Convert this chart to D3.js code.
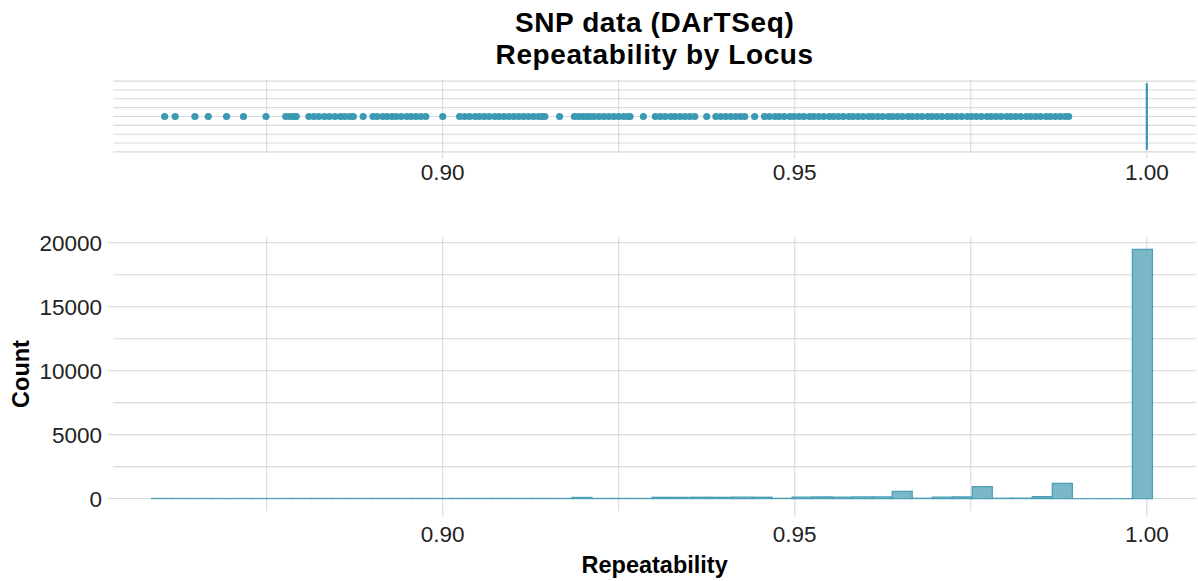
<!DOCTYPE html>
<html>
<head>
<meta charset="utf-8">
<script src="https://cdn.jsdelivr.net/npm/d3@7"></script>
<style>
  body { margin: 0; background: #fff; }
  svg { display: block; font-family: "Liberation Sans", Arial, sans-serif; }
</style>
</head>
<body>
<svg id="chart" width="1198" height="581"></svg>
<script>
// ---- data ----
const titleLines = ["SNP data (DArTSeq)", "Repeatability by Locus"];
const xLabel = "Repeatability";
const yLabel = "Count";
const xMajorTicks = [0.90, 0.95, 1.00];
const xMinorTicks = [0.875, 0.925, 0.975];
const yMajorTicks = [0, 5000, 10000, 15000, 20000];
const yMinorTicks = [2500, 7500, 12500, 17500];
const dataRange = [0.8602, 1.0];

// box summary (lower hinge, median, upper hinge) for the strip on top
const boxQuartiles = [1.0, 1.0, 1.0];

// loci falling outside the box, drawn as points
const outlierValues = [
  0.8605, 0.8620, 0.8648, 0.8667, 0.8693, 0.8717, 0.8749,
  0.8777, 0.8783, 0.8788, 0.8792,
  0.8810, 0.8817, 0.8824, 0.8832, 0.8839, 0.8847, 0.8855, 0.8861, 0.8868, 0.8873,
  0.8887,
  0.8901, 0.8907, 0.8915, 0.8921, 0.8928, 0.8934, 0.8941, 0.8949, 0.8955, 0.8962, 0.8969, 0.8976,
  0.9000,
  0.9024, 0.9031, 0.9038, 0.9046, 0.9052, 0.9059, 0.9066, 0.9074, 0.9080, 0.9087,
  0.9094, 0.9101, 0.9108, 0.9115, 0.9122, 0.9129, 0.9136, 0.9141, 0.9145,
  0.9166,
  0.9187, 0.9193, 0.9199, 0.9204, 0.9209, 0.9215, 0.9222, 0.9229, 0.9236, 0.9243,
  0.9250, 0.9257, 0.9263, 0.9266,
  0.9285,
  0.9302, 0.9309, 0.9316, 0.9324, 0.9330, 0.9337, 0.9344, 0.9351, 0.9358,
  0.9375,
  0.9388, 0.9395, 0.9402, 0.9409, 0.9416, 0.9423, 0.9429,
  0.9443,
  0.9457, 0.9464, 0.9472, 0.9478, 0.9485, 0.9493, 0.9499, 0.9506, 0.9513, 0.9521,
  0.9527, 0.9534, 0.9541, 0.9549, 0.9555, 0.9562, 0.9569, 0.9577, 0.9583, 0.9590,
  0.9597, 0.9605, 0.9611, 0.9618, 0.9625, 0.9633, 0.9639, 0.9646, 0.9653, 0.9661,
  0.9667, 0.9674, 0.9681, 0.9689, 0.9695, 0.9702, 0.9709, 0.9717, 0.9723, 0.9730,
  0.9737, 0.9745, 0.9751, 0.9758, 0.9765, 0.9773, 0.9779, 0.9786, 0.9793, 0.9801,
  0.9807, 0.9814, 0.9821, 0.9829, 0.9835, 0.9842, 0.9849, 0.9857, 0.9863, 0.9870,
  0.9877, 0.9884, 0.9889
];

// histogram: 50 equal-width bins
const binStart = 0.85865;
const binWidth = 0.002843;
const binCounts = [
  3, 2, 2, 1, 2, 1, 2, 5, 8, 6,
  4, 7, 6, 8, 3, 9, 10, 11, 9, 12,
  6, 85, 10, 12, 8, 95, 90, 100, 95, 105,
  100, 15, 110, 120, 115, 125, 130, 560, 20, 110,
  120, 930, 25, 30, 140, 1180, 0, 0, 0, 19480
];

// ---- styling ----
const teal = "#3b9ab3";
const histStroke = "#4aa1b6";
const histFill = "#7bb7c6";
const gridColor = "#d9d9d9";
const textColor = "#222";

const svg = d3.select("#chart");

const panelLeft = 113.3, panelRight = 1196;
const stripPanel = { y0: 80, y1: 153 };
const histPanel = { y0: 237, y1: 511 };
const tickLen = 5.5;

const span = dataRange[1] - dataRange[0];
const x = d3.scaleLinear()
  .domain([dataRange[0] - 0.05 * span, dataRange[1] + 0.05 * span])
  .range([panelLeft, panelRight]);

// ---- title ----
const titleG = svg.append("g").attr("font-weight", "bold").attr("font-size", 28)
  .attr("letter-spacing", "0.6px")
  .attr("fill", "#000").attr("text-anchor", "middle");
titleLines.forEach((t, i) => {
  titleG.append("text").attr("x", (panelLeft + panelRight) / 2).attr("y", 31.5 + i * 32).text(t);
});

// ---- top strip panel ----
const yStrip = d3.scaleLinear().domain([-0.4125, 0.4125]).range([stripPanel.y1, stripPanel.y0]);
const gStrip = svg.append("g");
gStrip.selectAll("line.hgrid")
  .data(d3.range(-4, 5).map(k => k / 10))
  .join("line")
  .attr("x1", panelLeft).attr("x2", panelRight)
  .attr("y1", d => yStrip(d)).attr("y2", d => yStrip(d))
  .attr("stroke", gridColor).attr("stroke-width", 1.1);
gStrip.selectAll("line.vminor")
  .data(xMinorTicks).join("line")
  .attr("x1", d => x(d)).attr("x2", d => x(d))
  .attr("y1", stripPanel.y0).attr("y2", stripPanel.y1)
  .attr("stroke", gridColor).attr("stroke-width", 1.1);
gStrip.selectAll("line.vmajor")
  .data(xMajorTicks).join("line")
  .attr("x1", d => x(d)).attr("x2", d => x(d))
  .attr("y1", stripPanel.y0).attr("y2", stripPanel.y1 + tickLen)
  .attr("stroke", gridColor).attr("stroke-width", 1.1);

// box (collapsed to a line) and median
const bx0 = x(boxQuartiles[0]), bx1 = x(boxQuartiles[2]);
gStrip.append("path")
  .attr("d", `M${bx0},${yStrip(-0.375)}L${bx0},${yStrip(0.375)}L${bx1},${yStrip(0.375)}L${bx1},${yStrip(-0.375)}Z`)
  .attr("fill", "none").attr("stroke", teal).attr("stroke-width", 1.2);
gStrip.append("line")
  .attr("x1", x(boxQuartiles[1])).attr("x2", x(boxQuartiles[1]))
  .attr("y1", yStrip(-0.375)).attr("y2", yStrip(0.375))
  .attr("stroke", teal).attr("stroke-width", 2.2);

gStrip.selectAll("circle")
  .data(outlierValues).join("circle")
  .attr("cx", d => x(d)).attr("cy", yStrip(0))
  .attr("r", 3.6).attr("fill", teal);

gStrip.selectAll("text.xt")
  .data(xMajorTicks).join("text")
  .attr("x", d => x(d)).attr("y", 180)
  .attr("text-anchor", "middle").attr("font-size", 22.5).attr("fill", textColor)
  .text(d => d3.format(".2f")(d));

// ---- histogram panel ----
const maxCount = d3.max(binCounts);
const yHist = d3.scaleLinear()
  .domain([-0.05 * maxCount, 1.05 * maxCount])
  .range([histPanel.y1, histPanel.y0]);
const gHist = svg.append("g");

gHist.selectAll("line.hminor")
  .data(yMinorTicks).join("line")
  .attr("x1", panelLeft).attr("x2", panelRight)
  .attr("y1", d => yHist(d)).attr("y2", d => yHist(d))
  .attr("stroke", gridColor).attr("stroke-width", 1.1);
gHist.selectAll("line.hmajor")
  .data(yMajorTicks).join("line")
  .attr("x1", panelLeft - tickLen).attr("x2", panelRight)
  .attr("y1", d => yHist(d)).attr("y2", d => yHist(d))
  .attr("stroke", gridColor).attr("stroke-width", 1.1);
gHist.selectAll("line.vminor")
  .data(xMinorTicks).join("line")
  .attr("x1", d => x(d)).attr("x2", d => x(d))
  .attr("y1", histPanel.y0).attr("y2", histPanel.y1)
  .attr("stroke", gridColor).attr("stroke-width", 1.1);
gHist.selectAll("line.vmajor")
  .data(xMajorTicks).join("line")
  .attr("x1", d => x(d)).attr("x2", d => x(d))
  .attr("y1", histPanel.y0).attr("y2", histPanel.y1 + tickLen)
  .attr("stroke", gridColor).attr("stroke-width", 1.1);

const bins = binCounts.map((c, i) => ({
  x0: binStart + i * binWidth,
  x1: binStart + (i + 1) * binWidth,
  count: c
}));
gHist.selectAll("path.bar")
  .data(bins).join("path")
  .attr("d", b => {
    const a = x(b.x0), c = x(b.x1), y0 = yHist(0), y1 = yHist(b.count);
    return `M${a},${y0}L${a},${y1}L${c},${y1}L${c},${y0}Z`;
  })
  .attr("fill", histFill).attr("stroke", histStroke).attr("stroke-width", 1.3)
  .attr("stroke-linejoin", "miter");

gHist.selectAll("text.yt")
  .data(yMajorTicks).join("text")
  .attr("x", 102).attr("y", d => yHist(d)).attr("dy", "0.36em")
  .attr("text-anchor", "end").attr("font-size", 22.5).attr("fill", textColor)
  .text(d => d3.format("d")(d));

gHist.selectAll("text.xt")
  .data(xMajorTicks).join("text")
  .attr("x", d => x(d)).attr("y", 542)
  .attr("text-anchor", "middle").attr("font-size", 22.5).attr("fill", textColor)
  .text(d => d3.format(".2f")(d));

// axis titles
svg.append("text")
  .attr("x", (panelLeft + panelRight) / 2).attr("y", 573)
  .attr("text-anchor", "middle").attr("font-weight", "bold").attr("font-size", 23.5)
  .attr("fill", "#000").text(xLabel);
svg.append("text")
  .attr("transform", `translate(29,${(histPanel.y0 + histPanel.y1) / 2}) rotate(-90)`)
  .attr("text-anchor", "middle").attr("font-weight", "bold").attr("font-size", 23.5)
  .attr("fill", "#000").text(yLabel);
</script>
</body>
</html>
